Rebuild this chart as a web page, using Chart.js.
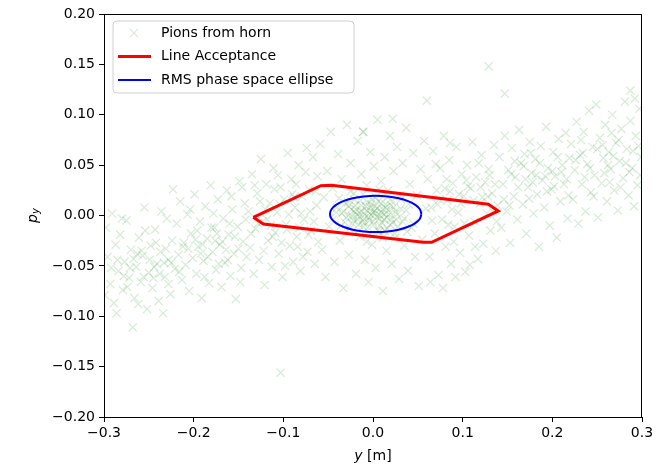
<!DOCTYPE html>
<html>
<head>
<meta charset="utf-8">
<script src="https://cdn.jsdelivr.net/npm/chart.js@4.4.1/dist/chart.umd.min.js"></script>
<style>
  body { margin: 0; background: #fff; }
</style>
</head>
<body>
<canvas id="chart" width="668" height="467"></canvas>
<script>
// tick values
const xTickValues = [-0.3, -0.2, -0.1, 0.0, 0.1, 0.2, 0.3];
const yTickValues = [-0.2, -0.15, -0.1, -0.05, 0.0, 0.05, 0.1, 0.15, 0.2];

// red acceptance polygon (closed)
const acceptanceX = [-0.1335, -0.0583, -0.0461, 0.1286, 0.1397, 0.0654, 0.0561, -0.1223, -0.1335];
const acceptanceY = [-0.0018, 0.0296, 0.0300, 0.0111, 0.0045, -0.0266, -0.0266, -0.0084, -0.0018];

// blue RMS ellipse
const ellipseX = [0.054, 0.0523, 0.0472, 0.0391, 0.0285, 0.0162, 0.003, -0.0102, -0.0225, -0.0331, -0.0412, -0.0463,
  -0.048, -0.0463, -0.0412, -0.0331, -0.0225, -0.0102, 0.003, 0.0162, 0.0285, 0.0391, 0.0472, 0.0523, 0.054];
const ellipseY = [0.0015, 0.0062, 0.0105, 0.0142, 0.0171, 0.0189, 0.0195, 0.0189, 0.0171, 0.0142, 0.0105, 0.0062,
  0.0015, -0.0032, -0.0075, -0.0112, -0.0141, -0.0159, -0.0165, -0.0159, -0.0141, -0.0112, -0.0075, -0.0032, 0.0015];

// pions from horn [y, p_y]
const pions = [
  [-0.298,-0.012],[-0.296,-0.041],[-0.293,-0.068],[-0.291,0.002],[-0.289,-0.087],[-0.287,-0.029],[-0.284,-0.055],[-0.282,-0.019],
  [-0.279,-0.074],[-0.277,-0.046],[-0.275,-0.005],[-0.272,-0.062],[-0.270,-0.034],[-0.268,-0.111],[-0.266,-0.082],[-0.264,-0.051],
  [-0.261,-0.022],[-0.259,-0.066],[-0.257,-0.040],[-0.255,0.008],[-0.252,-0.093],[-0.250,-0.057],[-0.248,-0.030],[-0.246,-0.072],
  [-0.243,-0.014],[-0.241,-0.048],[-0.239,-0.085],[-0.237,-0.036],[-0.234,-0.097],[-0.232,-0.061],[-0.230,-0.003],[-0.228,-0.044],
  [-0.226,-0.078],[-0.224,-0.025],[-0.223,0.026],[-0.221,-0.053],[-0.286,-0.097],[-0.280,-0.003],[-0.262,-0.088],[-0.254,-0.015],
  [-0.245,-0.062],[-0.236,0.004],[-0.228,-0.068],[-0.292,-0.052],[-0.274,-0.071],[-0.258,-0.035],[-0.242,-0.027],[-0.233,-0.047],
  [-0.299,-0.079],[-0.267,-0.043],
  [-0.271,-0.052],[-0.263,-0.038],[-0.256,-0.061],[-0.249,-0.044],[-0.244,-0.051],[-0.238,-0.058],[-0.231,-0.033],[-0.225,-0.047],
  [-0.278,-0.060],[-0.285,-0.044],
  [-0.219,-0.008],[-0.217,-0.039],[-0.215,0.014],[-0.213,-0.064],[-0.211,-0.027],[-0.209,-0.049],[-0.207,0.001],[-0.205,-0.075],
  [-0.203,-0.018],[-0.201,-0.042],[-0.199,0.021],[-0.197,-0.058],[-0.195,-0.031],[-0.193,-0.006],[-0.191,-0.082],[-0.189,-0.045],
  [-0.187,0.009],[-0.185,-0.023],[-0.183,-0.067],[-0.181,0.030],[-0.179,-0.036],[-0.177,-0.012],[-0.175,-0.054],[-0.173,0.016],
  [-0.171,-0.029],[-0.169,-0.071],[-0.167,-0.003],[-0.165,-0.047],[-0.163,0.025],[-0.161,-0.019],[-0.159,-0.060],[-0.157,0.006],
  [-0.155,-0.038],[-0.153,-0.083],[-0.151,-0.011],[-0.149,0.034],[-0.147,-0.052],[-0.145,-0.026],[-0.143,0.012],[-0.141,-0.041],
  [-0.216,-0.056],[-0.204,0.006],[-0.196,-0.015],[-0.188,-0.061],[-0.178,0.002],[-0.172,-0.048],[-0.164,-0.034],[-0.158,0.019],
  [-0.148,-0.066],[-0.142,-0.004],[-0.212,-0.031],[-0.192,-0.038],[-0.176,-0.025],[-0.160,-0.008],[-0.146,0.028],
  [-0.206,-0.033],[-0.198,-0.024],[-0.190,-0.029],[-0.184,-0.041],[-0.174,-0.018],[-0.168,-0.026],[-0.162,-0.044],[-0.154,-0.021],
  [-0.150,-0.033],[-0.180,-0.012],
  [-0.139,0.004],[-0.137,-0.032],[-0.135,0.041],[-0.133,-0.058],[-0.131,-0.013],[-0.129,0.022],[-0.127,-0.044],[-0.125,0.056],
  [-0.123,-0.006],[-0.121,-0.069],[-0.119,0.031],[-0.117,-0.025],[-0.115,0.012],[-0.113,-0.051],[-0.111,0.047],[-0.109,-0.017],
  [-0.107,0.003],[-0.105,-0.038],[-0.103,0.028],[-0.101,-0.061],[-0.099,0.016],[-0.097,-0.009],[-0.095,0.062],[-0.093,-0.030],
  [-0.091,0.036],[-0.089,-0.046],[-0.087,0.008],[-0.085,-0.021],[-0.083,0.050],[-0.081,-0.055],[-0.079,0.019],[-0.077,-0.004],
  [-0.075,0.043],[-0.073,-0.036],[-0.071,0.026],[-0.069,-0.015],[-0.067,0.058],[-0.065,-0.048],[-0.063,0.010],[-0.061,-0.026],
  [-0.136,-0.018],[-0.126,0.014],[-0.118,-0.004],[-0.110,0.026],[-0.102,-0.027],[-0.094,0.001],[-0.086,0.031],[-0.078,-0.041],
  [-0.070,0.004],[-0.062,0.039],[-0.132,0.030],[-0.122,-0.035],[-0.114,-0.010],[-0.106,0.040],[-0.098,-0.050],[-0.090,0.021],
  [-0.082,-0.012],[-0.074,0.067],[-0.066,-0.006],
  [-0.128,-0.008],[-0.120,0.006],[-0.112,-0.021],[-0.104,0.011],[-0.096,-0.014],[-0.088,0.018],[-0.080,0.002],[-0.072,-0.019],
  [-0.064,0.024],[-0.084,-0.031],
  [-0.059,0.071],[-0.057,-0.034],[-0.055,0.018],[-0.053,-0.061],[-0.051,0.044],[-0.049,-0.011],[-0.047,0.083],[-0.045,0.027],
  [-0.043,-0.046],[-0.041,0.003],[-0.039,0.061],[-0.037,-0.025],[-0.035,0.036],[-0.033,-0.072],[-0.031,0.012],[-0.029,0.090],
  [-0.027,-0.039],[-0.025,0.052],[-0.023,-0.008],[-0.021,0.022],[-0.019,-0.058],[-0.017,0.074],[-0.015,-0.021],[-0.013,0.041],
  [-0.011,0.083],[-0.009,-0.044],[-0.007,0.030],[-0.005,-0.066],[-0.003,0.063],[-0.001,-0.029],[0.001,0.049],[0.003,-0.052],
  [0.005,0.095],[0.007,-0.016],[0.009,0.034],[0.011,-0.075],[0.013,0.058],[0.015,-0.035],[0.017,0.025],[0.019,0.079],
  [0.021,-0.048],[0.023,0.044],[0.025,-0.022],[0.027,0.068],[0.029,-0.063],[0.031,0.016],[0.033,0.052],[0.035,-0.030],
  [0.037,0.087],[0.039,-0.055],[0.041,0.031],[0.043,-0.012],[0.045,0.062],[0.047,-0.041],[0.049,0.020],[0.051,-0.070],
  [0.053,0.046],[0.055,-0.024],[0.057,0.074],[0.059,0.007],
  [-0.045,-0.004],[-0.040,0.008],[-0.036,-0.010],[-0.033,0.004],[-0.030,-0.002],[-0.028,0.013],[-0.026,-0.013],[-0.024,0.006],
  [-0.022,-0.005],[-0.020,0.010],[-0.018,0.001],[-0.016,-0.009],[-0.014,0.015],[-0.012,0.004],[-0.010,-0.003],[-0.008,0.009],
  [-0.006,-0.012],[-0.004,0.002],[-0.002,0.011],[0.000,-0.006],[0.002,0.005],[0.004,-0.001],[0.006,0.014],[0.008,-0.010],
  [0.010,0.003],[0.012,-0.004],[0.014,0.008],[0.016,-0.013],[0.018,0.001],[0.020,0.010],[0.022,-0.007],[0.025,0.004],
  [0.028,-0.011],[0.031,0.007],[0.035,-0.003],[0.040,0.011],[0.045,-0.008],
  [-0.019,-0.017],[-0.011,0.021],[-0.003,-0.019],[0.003,0.018],[0.011,-0.022],[0.017,0.019],[-0.025,0.024],[-0.007,-0.026],
  [0.007,0.026],[0.024,-0.018],[-0.038,0.017],[0.038,-0.016],[-0.015,0.003],[0.005,0.007],[-0.001,0.000],[0.013,-0.015],
  [-0.009,-0.007],[0.021,0.014],[-0.027,0.000],[0.030,0.020],
  [-0.035,0.002],[-0.031,-0.007],[-0.027,0.009],[-0.023,-0.001],[-0.019,0.006],[-0.017,-0.004],[-0.013,0.010],[-0.011,-0.011],
  [-0.007,0.005],[-0.005,-0.002],[-0.003,0.008],[0.001,-0.009],[0.003,0.002],[0.007,-0.003],[0.009,0.012],[0.011,0.006],
  [0.015,-0.002],[0.019,-0.009],[0.023,0.008],[0.027,0.001],[0.033,-0.006],[0.037,0.005],[-0.001,0.016],[0.005,-0.015],
  [-0.021,0.016],[0.026,-0.004],[-0.009,0.001],[0.013,0.001],[-0.015,-0.001],[0.017,0.005],
  [-0.004,-0.005],[0.002,0.009],[0.008,0.000],[-0.012,-0.006],[0.014,0.011],[-0.020,0.003],[0.020,-0.003],[0.000,0.003],
  [-0.006,0.013],[0.010,-0.007],
  [0.061,0.036],[0.063,-0.041],[0.065,0.008],[0.067,0.064],[0.069,-0.018],[0.071,0.025],[0.073,-0.059],[0.075,0.047],
  [0.077,-0.004],[0.079,0.079],[0.081,-0.031],[0.083,0.015],[0.085,0.055],[0.087,-0.048],[0.089,0.032],[0.091,-0.011],
  [0.093,0.068],[0.095,0.003],[0.097,-0.037],[0.099,0.041],[0.101,0.019],[0.103,-0.056],[0.105,0.050],[0.107,-0.020],
  [0.109,0.027],[0.111,0.073],[0.113,-0.006],[0.115,0.038],[0.117,-0.043],[0.119,0.012],[0.121,0.060],[0.123,-0.028],
  [0.125,0.033],[0.127,0.002],[0.129,0.046],[0.131,-0.015],[0.133,0.022],[0.135,0.070],[0.137,-0.035],[0.139,0.010],
  [0.066,-0.005],[0.074,0.016],[0.082,0.036],[0.090,-0.026],[0.098,0.012],[0.106,0.029],[0.114,-0.031],[0.122,0.018],
  [0.130,0.040],[0.138,-0.006],[0.070,0.051],[0.086,0.024],[0.102,-0.008],[0.118,0.052],[0.134,0.004],
  [0.064,-0.066],[0.078,-0.072],[0.092,-0.061],[0.108,-0.049],
  [0.072,0.011],[0.080,0.027],[0.088,0.006],[0.096,0.021],[0.104,0.035],[0.112,0.015],[0.120,0.028],[0.128,0.019],
  [0.136,0.031],[0.084,-0.009],
  [0.141,0.058],[0.143,-0.012],[0.145,0.031],[0.147,0.079],[0.149,0.004],[0.151,0.045],[0.153,-0.027],[0.155,0.067],
  [0.157,0.019],[0.159,0.038],[0.161,-0.004],[0.163,0.085],[0.165,0.052],[0.167,0.011],[0.169,0.061],[0.171,-0.018],
  [0.173,0.028],[0.175,0.073],[0.177,0.042],[0.179,0.002],[0.181,0.056],[0.183,0.021],[0.185,-0.031],[0.187,0.069],
  [0.189,0.035],[0.191,0.008],[0.193,0.088],[0.195,0.047],[0.197,-0.010],[0.199,0.026],[0.201,0.063],[0.203,0.039],
  [0.205,-0.022],[0.207,0.076],[0.209,0.014],[0.211,0.050],[0.213,0.031],[0.215,0.082],[0.217,-0.003],[0.219,0.057],
  [0.146,0.016],[0.158,0.054],[0.170,0.036],[0.182,0.040],[0.194,0.024],[0.206,0.058],[0.218,0.020],[0.152,0.010],
  [0.176,0.062],[0.200,0.044],
  [0.154,0.041],[0.162,0.028],[0.168,0.049],[0.178,0.033],[0.186,0.052],[0.192,0.039],[0.202,0.029],[0.210,0.043],
  [0.216,0.036],[0.174,0.017],
  [0.221,0.071],[0.223,0.016],[0.225,0.045],[0.227,0.093],[0.229,-0.008],[0.231,0.060],[0.233,0.031],[0.235,0.083],
  [0.237,0.004],[0.239,0.051],[0.241,0.104],[0.243,0.023],[0.245,0.068],[0.247,0.040],[0.249,0.110],[0.251,-0.002],
  [0.253,0.077],[0.255,0.032],[0.257,0.057],[0.259,0.090],[0.261,0.014],[0.263,0.063],[0.265,0.046],[0.267,0.100],
  [0.269,0.025],[0.271,0.072],[0.273,0.005],[0.275,0.054],[0.277,0.086],[0.279,0.037],[0.281,0.113],[0.283,0.066],
  [0.285,0.020],[0.287,0.094],[0.289,0.047],[0.291,0.009],[0.293,0.079],[0.295,0.030],[0.297,0.106],[0.299,0.058],
  [0.226,0.055],[0.236,0.038],[0.246,0.019],[0.256,0.070],[0.266,0.082],[0.276,0.028],[0.286,0.043],[0.296,0.069],
  [0.232,0.075],[0.262,0.050],[0.292,0.116],
  [0.234,0.062],[0.242,0.047],[0.250,0.066],[0.258,0.042],[0.268,0.059],[0.274,0.075],[0.282,0.052],[0.290,0.064],
  [0.298,0.040],[0.264,0.033],
  // outliers
  [-0.103,-0.156],[-0.011,0.083],[0.022,0.096],[0.060,0.114],[0.086,0.072],[0.129,0.148],[0.147,0.121],[0.287,0.124]
];

const FONT = '"DejaVu Sans", sans-serif';
const pionColor = 'rgba(0, 128, 0, 0.15)';
const pionRadius = 5.8;

function toXY(xs, ys) {
  return xs.map((x, i) => ({ x: x, y: ys[i] }));
}

function fmt(v, digits) {
  if (Math.abs(v) < 1e-9) return (0).toFixed(digits);
  const s = Math.abs(v).toFixed(digits);
  return v < 0 ? '\u2212' + s : s;
}

// draws a run of text pieces with mixed fonts, centred on (x, y)
function drawPieces(ctx, pieces, x, y) {
  let total = 0;
  pieces.forEach(p => { ctx.font = p.font; total += ctx.measureText(p.t).width; });
  let cx = x - total / 2;
  ctx.textAlign = 'left';
  ctx.textBaseline = 'middle';
  pieces.forEach(p => {
    ctx.font = p.font;
    ctx.fillText(p.t, cx, y + (p.dy || 0));
    cx += ctx.measureText(p.t).width;
  });
}

const framePlugin = {
  id: 'frame',
  afterDraw(chart) {
    const ctx = chart.ctx;
    const a = chart.chartArea;
    ctx.save();
    ctx.strokeStyle = '#000';
    ctx.lineWidth = 1;
    ctx.strokeRect(a.left + 0.5, a.top + 0.5, a.right - a.left - 1, a.bottom - a.top);

    // axis titles
    ctx.fillStyle = '#000';
    drawPieces(ctx, [
      { t: 'y', font: 'italic 14px ' + FONT },
      { t: ' [m]', font: '14px ' + FONT }
    ], (a.left + a.right) / 2, 456);

    ctx.translate(33, (a.top + a.bottom) / 2);
    ctx.rotate(-Math.PI / 2);
    drawPieces(ctx, [
      { t: 'p', font: 'italic 14px ' + FONT },
      { t: 'y', font: 'italic 10px ' + FONT, dy: 3 }
    ], 0, 0);
    ctx.restore();

    // legend box
    ctx.save();
    const bx = a.left + 9, by = a.top + 7, bw = 241, bh = 72;
    ctx.beginPath();
    ctx.roundRect(bx, by, bw, bh, 4);
    ctx.fillStyle = 'rgba(255,255,255,0.8)';
    ctx.fill();
    ctx.strokeStyle = '#d0d0d0';
    ctx.lineWidth = 1;
    ctx.stroke();

    const rows = [by + 12, by + 35.5, by + 59];
    chart.data.datasets.forEach((ds, i) => {
      const ry = rows[i];
      if (ds.showLine) {
        ctx.beginPath();
        ctx.moveTo(bx + 5, ry);
        ctx.lineTo(bx + 38, ry);
        ctx.strokeStyle = ds.borderColor;
        ctx.lineWidth = ds.borderWidth;
        ctx.stroke();
      } else {
        const d = pionRadius * Math.SQRT1_2;
        ctx.strokeStyle = ds.pointBorderColor;
        ctx.lineWidth = ds.pointBorderWidth;
        ctx.beginPath();
        ctx.moveTo(bx + 21 - d, ry - d); ctx.lineTo(bx + 21 + d, ry + d);
        ctx.moveTo(bx + 21 - d, ry + d); ctx.lineTo(bx + 21 + d, ry - d);
        ctx.stroke();
      }
      ctx.fillStyle = '#000';
      ctx.font = '14px ' + FONT;
      ctx.textAlign = 'left';
      ctx.textBaseline = 'middle';
      ctx.fillText(ds.label, bx + 48, ry);
    });
    ctx.restore();
  }
};

new Chart(document.getElementById('chart'), {
  type: 'scatter',
  data: {
    datasets: [
      {
        label: 'Pions from horn',
        data: pions.map(p => ({ x: p[0], y: p[1] })),
        pointStyle: 'crossRot',
        pointRadius: pionRadius,
        pointBorderWidth: 1.3,
        pointBorderColor: pionColor,
        pointBackgroundColor: pionColor,
        showLine: false,
        order: 3
      },
      {
        label: 'Line Acceptance',
        data: toXY(acceptanceX, acceptanceY),
        showLine: true,
        borderColor: '#ff0000',
        borderWidth: 3,
        pointRadius: 0,
        tension: 0,
        order: 2
      },
      {
        label: 'RMS phase space ellipse',
        data: toXY(ellipseX, ellipseY),
        showLine: true,
        borderColor: '#0000ff',
        borderWidth: 2,
        pointRadius: 0,
        tension: 0.3,
        order: 1
      }
    ]
  },
  options: {
    responsive: false,
    animation: false,
    events: [],
    layout: { padding: { left: 0, top: 14, right: 26, bottom: 0 } },
    plugins: {
      legend: { display: false },
      tooltip: { enabled: false }
    },
    scales: {
      x: {
        type: 'linear',
        min: -0.3,
        max: 0.3,
        afterFit: s => { s.height = 50; },
        afterBuildTicks: s => { s.ticks = xTickValues.map(v => ({ value: v })); },
        grid: { drawOnChartArea: false, tickLength: 5, tickColor: '#000', tickWidth: 1 },
        border: { display: false },
        ticks: {
          color: '#000',
          padding: 3,
          maxRotation: 0,
          font: { family: FONT, size: 14 },
          callback: v => fmt(v, 1)
        }
      },
      y: {
        type: 'linear',
        min: -0.2,
        max: 0.2,
        afterFit: s => { s.width = 104; },
        afterBuildTicks: s => { s.ticks = yTickValues.map(v => ({ value: v })); },
        grid: { drawOnChartArea: false, tickLength: 5, tickColor: '#000', tickWidth: 1 },
        border: { display: false },
        ticks: {
          color: '#000',
          padding: 4,
          font: { family: FONT, size: 14 },
          callback: v => fmt(v, 2)
        }
      }
    }
  },
  plugins: [framePlugin]
});
</script>
</body>
</html>
